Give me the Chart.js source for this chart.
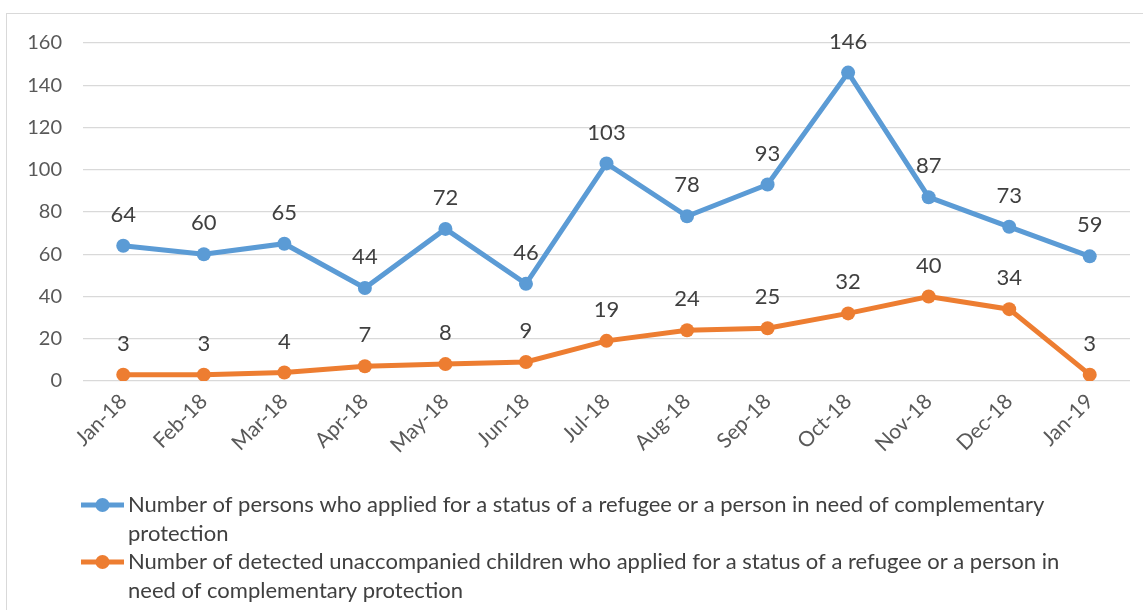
<!DOCTYPE html>
<html>
<head>
<meta charset="utf-8">
<script src="https://cdn.jsdelivr.net/npm/chart.js@4.4.1/dist/chart.umd.min.js"></script>
<style>
  html, body { margin: 0; padding: 0; background: #ffffff; }
  #wrap { width: 1143px; height: 610px; position: relative; }
</style>
</head>
<body>
<div id="wrap"><canvas id="LineChart"></canvas></div>
<script>
var Months = ['Jan-18', 'Feb-18', 'Mar-18', 'Apr-18', 'May-18', 'Jun-18', 'Jul-18', 'Aug-18', 'Sep-18', 'Oct-18', 'Nov-18', 'Dec-18', 'Jan-19']
var PersonsApplied = [64, 60, 65, 44, 72, 46, 103, 78, 93, 146, 87, 73, 59]
var ChildrenApplied = [3, 3, 4, 7, 8, 9, 19, 24, 25, 32, 40, 34, 3]
var LegendLines = [
    ['Number of persons who applied for a status of a refugee or a person in need of complementary', 'protection'],
    ['Number of detected unaccompanied children who applied for a status of a refugee or a person in', 'need of complementary protection']
]

var FontName = 'Lato, "Liberation Sans", sans-serif'
Chart.defaults.font.family = FontName
Chart.defaults.color = '#595959'

// outer frame like the office chart box
var ChartFrame = {
    id: 'ChartFrame',
    beforeDraw: chart => {
        var ctx = chart.ctx
        ctx.save()
        ctx.strokeStyle = '#D9D9D9'
        ctx.lineWidth = 1
        ctx.strokeRect(6.5, 13.5, 1150, 620)
        ctx.restore()
    }
}

// value labels above each point
var PointLabels = {
    id: 'PointLabels',
    afterDatasetsDraw: chart => {
        var ctx = chart.ctx
        ctx.save()
        ctx.font = '22px ' + FontName
        ctx.fillStyle = '#404040'
        ctx.textAlign = 'center'
        ctx.textBaseline = 'middle'
        chart.data.datasets.forEach((ds, i) => {
            chart.getDatasetMeta(i).data.forEach((pt, j) => {
                ctx.fillText(ds.data[j], pt.x, pt.y - 31)
            })
        })
        ctx.restore()
    }
}

// wrapped legend under the axis
var WrappedLegend = {
    id: 'WrappedLegend',
    afterDraw: chart => {
        var ctx = chart.ctx
        var rowsY = [505, 562]
        ctx.save()
        ctx.font = '22px ' + FontName
        ctx.textBaseline = 'middle'
        ctx.textAlign = 'left'
        chart.data.datasets.forEach((ds, i) => {
            var y = rowsY[i]
            ctx.strokeStyle = ds.borderColor
            ctx.lineWidth = 5
            ctx.beginPath()
            ctx.moveTo(81, y)
            ctx.lineTo(124, y)
            ctx.stroke()
            ctx.fillStyle = ds.borderColor
            ctx.beginPath()
            ctx.arc(102.5, y, 7, 0, Math.PI * 2)
            ctx.fill()
            ctx.fillStyle = '#404040'
            LegendLines[i].forEach((txt, k) => {
                ctx.fillText(txt, 128, y + k * 28.5)
            })
        })
        ctx.restore()
    }
}

var config_Line = {
    type: 'line',
    data: {
        labels: Months,
        datasets: [{
            label: LegendLines[0].join(' '),
            data: PersonsApplied,
            borderColor: '#5B9BD5',
            backgroundColor: '#5B9BD5',
            borderWidth: 5,
            pointRadius: 7,
            pointBorderWidth: 0,
            tension: 0
        }, {
            label: LegendLines[1].join(' '),
            data: ChildrenApplied,
            borderColor: '#ED7D31',
            backgroundColor: '#ED7D31',
            borderWidth: 5,
            pointRadius: 7,
            pointBorderWidth: 0,
            tension: 0
        }]
    },
    plugins: [ChartFrame, PointLabels, WrappedLegend],
    options: {
        responsive: true,
        maintainAspectRatio: false,
        animation: false,
        layout: {
            padding: { top: 43, left: 0, right: 13, bottom: 0 }
        },
        plugins: {
            legend: { display: false },
            tooltip: { enabled: false }
        },
        scales: {
            x: {
                offset: true,
                grid: { display: false, drawTicks: false },
                border: { display: false },
                ticks: {
                    minRotation: 45,
                    maxRotation: 45,
                    padding: 8,
                    font: { size: 21 },
                    color: '#595959'
                },
                afterFit: scale => { scale.height = 229 }
            },
            y: {
                min: 0,
                max: 160,
                grid: { color: '#D9D9D9', lineWidth: 1.3, drawTicks: false },
                border: { display: false },
                ticks: {
                    stepSize: 20,
                    padding: 21,
                    font: { size: 20 },
                    color: '#595959'
                },
                afterFit: scale => { scale.width = 83 }
            }
        }
    }
}

var LineChartElement = document.getElementById('LineChart').getContext('2d')
var LineChart = new Chart(LineChartElement, config_Line)
</script>
</body>
</html>
